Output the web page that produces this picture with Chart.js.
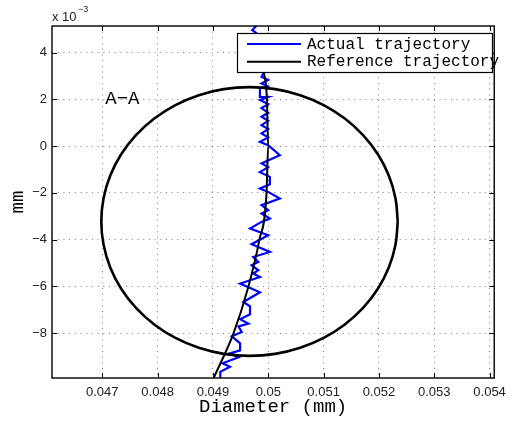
<!DOCTYPE html>
<html>
<head>
<meta charset="utf-8">
<script src="https://cdn.jsdelivr.net/npm/chart.js@4"></script>
<style>
  html, body { margin: 0; padding: 0; background: #fff; }
</style>
</head>
<body>
<canvas id="chart1" width="513" height="422"></canvas>
<script>
// actual (blue) trajectory, y in units of 1e-3 mm
const actualX = [0.049133, 0.049133, 0.049308, 0.049174, 0.049461, 0.049312, 0.049491, 0.049491, 0.049341, 0.049520,
  0.049461, 0.049640, 0.049491, 0.049670, 0.049670, 0.049550, 0.049849, 0.049491, 0.049849, 0.049729,
  0.049819, 0.049699, 0.049819, 0.049729, 0.050029, 0.049699, 0.049998, 0.049670, 0.049878, 0.050029,
  0.049878, 0.049998, 0.049878, 0.050208, 0.049998, 0.049849, 0.050029, 0.050029, 0.049849, 0.049998,
  0.049878, 0.050208, 0.049998, 0.049849, 0.049998, 0.049878, 0.049998, 0.049878, 0.049998, 0.049878,
  0.049998, 0.049878, 0.049998, 0.049855, 0.049998, 0.049849, 0.049849, 0.049986, 0.049878, 0.049998,
  0.049878, 0.049927, 0.049837, 0.049909, 0.049783, 0.049711, 0.049783];
const actualY = [-9.92, -9.657, -9.443, -9.293, -9.036, -8.865, -8.737, -8.437, -8.137, -7.953,
  -7.709, -7.593, -7.409, -7.195, -6.852, -6.668, -6.253, -5.880, -5.597, -5.452,
  -5.310, -5.096, -4.955, -4.741, -4.527, -4.197, -3.812, -3.525, -3.242, -3.096,
  -2.882, -2.741, -2.527, -2.240, -1.957, -1.812, -1.627, -1.315, -1.113, -0.899,
  -0.741, -0.385, 0.043, 0.184, 0.373, 0.544, 0.728, 0.899, 1.084, 1.255,
  1.426, 1.627, 1.799, 1.970, 2.099, 2.099, 2.463, 2.570, 2.685, 2.827,
  2.968, 3.169, 3.683, 4.197, 4.839, 4.968, 5.139];

// reference (black) trajectory
const refX = [0.049013, 0.049371, 0.049622, 0.049837, 0.049968, 0.049998, 0.049975, 0.049921, 0.049880];
const refY = [-9.92, -8.01, -6.17, -4.03, -2.01, 0.00, 2.01, 3.17, 4.00];

// section outline "A-A"
const circleX = [0.052340, 0.052299, 0.052178, 0.051981, 0.051713, 0.051383, 0.051001, 0.050577, 0.050126, 0.049661,
  0.049196, 0.048745, 0.048321, 0.047939, 0.047609, 0.047341, 0.047144, 0.047023, 0.046982, 0.047023,
  0.047144, 0.047341, 0.047609, 0.047939, 0.048321, 0.048745, 0.049196, 0.049661, 0.050126, 0.050577,
  0.051001, 0.051383, 0.051713, 0.051981, 0.052178, 0.052299, 0.052340];
const circleY = [-3.225, -2.227, -1.258, -0.350, 0.471, 1.180, 1.755, 2.178, 2.438, 2.525,
  2.438, 2.178, 1.755, 1.180, 0.471, -0.350, -1.258, -2.227, -3.225, -4.223,
  -5.192, -6.100, -6.921, -7.630, -8.205, -8.628, -8.888, -8.975, -8.888, -8.628,
  -8.205, -7.630, -6.921, -6.100, -5.192, -4.223, -3.225];

const xTickValues = [0.047, 0.048, 0.049, 0.05, 0.051, 0.052, 0.053, 0.054];
const xTickLabels = ['0.047', '0.048', '0.049', '0.05', '0.051', '0.052', '0.053', '0.054'];
const yTickValues = [-8, -6, -4, -2, 0, 2, 4];
const yTickLabels = ['\u22128', '\u22126', '\u22124', '\u22122', '0', '2', '4'];

const seriesNames = ['Actual trajectory', 'Reference trajectory'];
const sectionLabel = 'A\u2212A';
const xTitle = 'Diameter (mm)';
const yTitle = 'mm';

const toPoints = (xs, ys) => xs.map((v, i) => ({x: v, y: ys[i]}));

const SANS = '"Liberation Sans", Arial, sans-serif';
const MONO = '"Liberation Mono", "Courier New", monospace';

const framePlugin = {
  id: 'frame',
  afterDatasetsDraw(chart) {
    const ctx = chart.ctx;
    const a = chart.chartArea;
    const xs = chart.scales.x, ys = chart.scales.y;
    ctx.save();
    ctx.strokeStyle = '#000';
    ctx.lineWidth = 1;
    ctx.beginPath();
    xTickValues.forEach(v => {
      const px = Math.round(xs.getPixelForValue(v)) + 0.5;
      ctx.moveTo(px, a.bottom); ctx.lineTo(px, a.bottom - 5);
      ctx.moveTo(px, a.top); ctx.lineTo(px, a.top + 5);
    });
    yTickValues.forEach(v => {
      const py = Math.round(ys.getPixelForValue(v)) + 0.5;
      ctx.moveTo(a.left, py); ctx.lineTo(a.left + 5, py);
      ctx.moveTo(a.right, py); ctx.lineTo(a.right - 5, py);
    });
    ctx.stroke();
    ctx.lineWidth = 1.4;
    ctx.strokeRect(a.left, a.top, a.right - a.left, a.bottom - a.top);

    // section label
    ctx.fillStyle = '#000';
    ctx.font = '19px ' + MONO;
    ctx.textBaseline = 'middle';
    ctx.textAlign = 'left';
    ctx.fillText(sectionLabel, xs.getPixelForValue(0.047054), ys.getPixelForValue(2.0));

    // legend
    const lx = 237, ly = 33, lw = 255, lh = 39;
    ctx.fillStyle = '#fff';
    ctx.fillRect(lx, ly, lw, lh);
    ctx.lineWidth = 1.2;
    ctx.strokeStyle = '#000';
    ctx.strokeRect(lx + 0.5, ly + 0.5, lw, lh);
    const ds = chart.data.datasets;
    [0, 1].forEach(i => {
      const yy = ly + 11 + i * 17.7;
      ctx.strokeStyle = ds[i].borderColor;
      ctx.lineWidth = 2;
      ctx.beginPath(); ctx.moveTo(247, yy); ctx.lineTo(301, yy); ctx.stroke();
      ctx.fillStyle = '#000';
      ctx.font = '16px ' + MONO;
      ctx.textBaseline = 'middle';
      ctx.fillText(ds[i].label, 307, yy + 0.5);
    });

    // axis titles
    ctx.font = '19px ' + MONO;
    ctx.textAlign = 'center';
    ctx.textBaseline = 'middle';
    ctx.fillText(xTitle, (a.left + a.right) / 2, 407);
    ctx.save();
    ctx.translate(18, (a.top + a.bottom) / 2);
    ctx.rotate(-Math.PI / 2);
    ctx.fillText(yTitle, 0, 0);
    ctx.restore();

    // exponent
    ctx.textAlign = 'left';
    ctx.textBaseline = 'alphabetic';
    ctx.fillStyle = '#222';
    ctx.font = '13px ' + SANS;
    ctx.fillText('x 10', 52, 21);
    ctx.font = '9px ' + SANS;
    ctx.fillText('\u22123', 78, 12);
    ctx.restore();
  }
};

const ctx = document.getElementById('chart1').getContext('2d');
const chart1 = new Chart(ctx, {
  type: 'scatter',
  data: {
    datasets: [{
      label: seriesNames[0],
      data: toPoints(actualX, actualY),
      showLine: true,
      borderColor: '#0000ff',
      borderWidth: 2.2,
      pointRadius: 0,
      tension: 0,
      order: 3
    }, {
      label: seriesNames[1],
      data: toPoints(refX, refY),
      showLine: true,
      borderColor: '#000000',
      borderWidth: 2,
      pointRadius: 0,
      tension: 0.4,
      cubicInterpolationMode: 'monotone',
      order: 2
    }, {
      label: 'section',
      data: toPoints(circleX, circleY),
      showLine: true,
      borderColor: '#000000',
      borderWidth: 2.6,
      pointRadius: 0,
      tension: 0.4,
      order: 1
    }]
  },
  options: {
    responsive: false,
    animation: false,
    devicePixelRatio: 1,
    layout: { padding: { left: 0, top: 26, right: 14, bottom: 0 } },
    plugins: {
      legend: { display: false },
      tooltip: { enabled: false }
    },
    scales: {
      x: {
        type: 'linear',
        min: 0.046091,
        max: 0.054084,
        afterFit: s => { s.height = 44; },
        afterBuildTicks: s => { s.ticks = xTickValues.map(v => ({value: v})); },
        grid: { color: 'rgba(0,0,0,0.5)', lineWidth: 1, drawTicks: false },
        border: { display: false, dash: [1, 4.7] },
        ticks: {
          padding: 7,
          color: '#222',
          font: { family: SANS, size: 13 },
          maxRotation: 0,
          autoSkip: false,
          callback: (v, i) => xTickLabels[i]
        }
      },
      y: {
        type: 'linear',
        min: -9.92,
        max: 5.14,
        afterFit: s => { s.width = 52; },
        afterBuildTicks: s => { s.ticks = yTickValues.map(v => ({value: v})); },
        grid: { color: 'rgba(0,0,0,0.5)', lineWidth: 1, drawTicks: false },
        border: { display: false, dash: [1, 4.7] },
        ticks: {
          padding: 5,
          color: '#222',
          font: { family: SANS, size: 13 },
          autoSkip: false,
          callback: (v, i) => yTickLabels[i]
        }
      }
    }
  },
  plugins: [framePlugin]
});
</script>
</body>
</html>
